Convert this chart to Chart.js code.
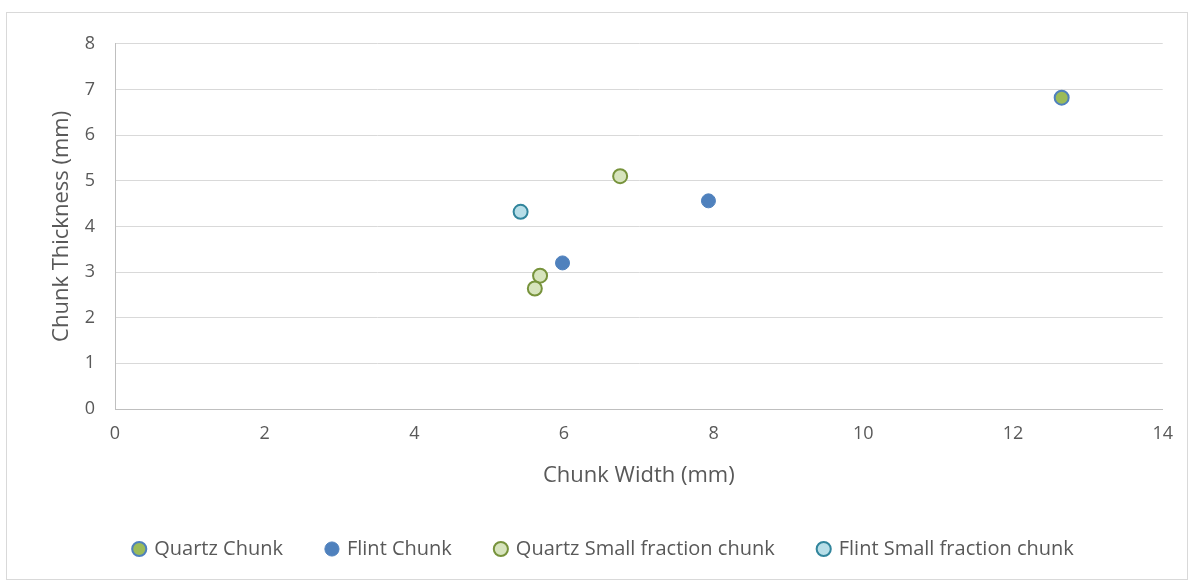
<!DOCTYPE html>
<html>
<head>
<meta charset="utf-8">
<script src="https://cdn.jsdelivr.net/npm/chart.js@4/dist/chart.umd.min.js"></script>
<style>
  html, body { margin: 0; padding: 0; background: #fff; }
  #wrap {
    position: absolute; left: 6px; top: 12px;
    width: 1182px; height: 568px;
    border: 1px solid #d9d9d9; box-sizing: border-box;
  }
</style>
</head>
<body>
<div id="wrap"><canvas id="chart"></canvas></div>
<script>
// data (width mm, thickness mm)
const quartzX = [12.65];
const quartzY = [6.82];
const flintX = [7.93, 5.98];
const flintY = [4.56, 3.20];
const quartzSmallX = [6.75, 5.68, 5.61];
const quartzSmallY = [5.10, 2.92, 2.64];
const flintSmallX = [5.42];
const flintSmallY = [4.32];

const toPoints = (xs, ys) => xs.map((x, i) => ({ x: x, y: ys[i] }));

const ctx = document.getElementById("chart").getContext("2d");
Chart.defaults.font.family = "'Open Sans', sans-serif";
Chart.defaults.color = "#595959";

new Chart(ctx, {
  type: "scatter",
  data: {
    datasets: [
      {
        label: "Quartz Chunk",
        data: toPoints(quartzX, quartzY),
        backgroundColor: "#9BBB59",
        borderColor: "#4F81BD",
        borderWidth: 2,
        pointRadius: 7,
      },
      {
        label: "Flint Chunk",
        data: toPoints(flintX, flintY),
        backgroundColor: "#4F81BD",
        borderColor: "#4F81BD",
        borderWidth: 1,
        pointRadius: 7,
      },
      {
        label: "Quartz Small fraction chunk",
        data: toPoints(quartzSmallX, quartzSmallY),
        backgroundColor: "#D7E4BD",
        borderColor: "#77933C",
        borderWidth: 2,
        pointRadius: 7,
      },
      {
        label: "Flint Small fraction chunk",
        data: toPoints(flintSmallX, flintSmallY),
        backgroundColor: "#B7DEE8",
        borderColor: "#31859C",
        borderWidth: 2,
        pointRadius: 7,
      },
    ],
  },
  options: {
    responsive: true,
    maintainAspectRatio: false,
    animation: false,
    layout: { padding: { top: 18, right: 24, bottom: 10, left: 38 } },
    plugins: {
      tooltip: { enabled: false },
      legend: {
        position: "bottom",
        labels: {
          usePointStyle: true,
          pointStyle: "circle",
          boxWidth: 10,
          boxHeight: 10,
          padding: 44,
          font: { size: 20 },
          color: "#595959",
        },
      },
    },
    scales: {
      x: {
        type: "linear",
        min: 0,
        max: 14,
        ticks: { stepSize: 2, padding: 14, font: { size: 18 } },
        grid: { display: false, drawTicks: false },
        border: { color: "#bfbfbf", width: 1 },
        title: { display: true, text: "Chunk Width (mm)", font: { size: 22 }, padding: { top: 6, bottom: 6 } },
        afterFit: (axis) => { axis.height = 86; },
      },
      y: {
        min: 0,
        max: 8,
        ticks: { stepSize: 1, padding: 20, font: { size: 18 } },
        grid: { color: "#d9d9d9", drawTicks: false },
        border: { color: "#bfbfbf", width: 1 },
        title: { display: true, text: "Chunk Thickness (mm)", font: { size: 22 } },
        afterFit: (axis) => { axis.width = 70; },
      },
    },
  },
});
</script>
</body>
</html>
